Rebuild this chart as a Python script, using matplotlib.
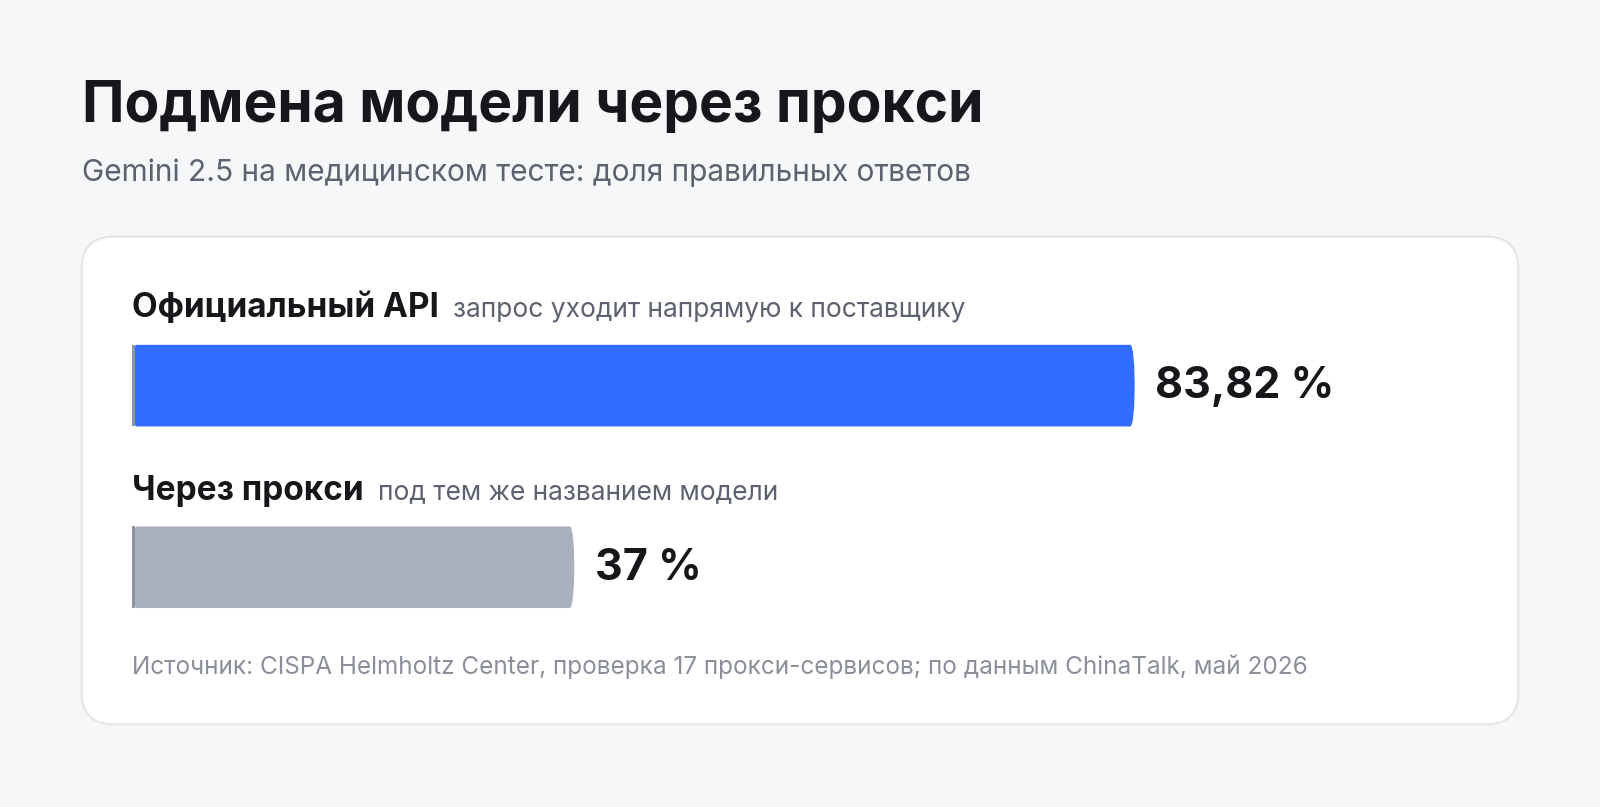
import matplotlib.pyplot as plt
from matplotlib.patches import FancyBboxPatch

labels = ["Официальный API", "Через прокси"]
notes = ["запрос уходит напрямую к поставщику", "под тем же названием модели"]
values = [83.82, 37.0]
value_text = ["83,82 %", "37 %"]
colors = ["#316bff", "#abb0bd"]

W, H = 1568, 791
plt.rcParams["font.family"] = ["Inter", "DejaVu Sans"]
fig = plt.figure(figsize=(16, 8.07), dpi=100)
fig.patch.set_facecolor("#f6f7f8")


def fx(x):
    return x / W


def fy(y):
    return 1 - y / H


fig.text(fx(80), fy(105), "Подмена модели через прокси", fontsize=41, fontweight="bold",
         color="#16171a", va="center")
fig.text(fx(80), fy(169), "Gemini 2.5 на медицинском тесте: доля правильных ответов",
         fontsize=21.5, color="#5d6270", va="center")

card = FancyBboxPatch((fx(80), fy(710)), fx(1408), 478 / H,
                      boxstyle="round,pad=0,rounding_size=0.02",
                      transform=fig.transFigure, facecolor="white",
                      edgecolor="#e3e5e9", linewidth=1.5, mutation_aspect=W / H, zorder=0)
fig.patches.append(card)

# bar axis: x from 129 to 1302 px spans 0..100 %
ax = fig.add_axes([fx(129), fy(600), fx(1173), 270 / H], zorder=2)
ax.patch.set_alpha(0)
ax.set_xlim(0, 100)
ax.set_ylim(600, 330)
ax.axis("off")

bar_top = [338, 516]
label_y = [302, 481]
for i, v in enumerate(values):
    y0 = bar_top[i]
    ax.add_patch(FancyBboxPatch((0, y0), v, 80, boxstyle="round,pad=0,rounding_size=0.4",
                                facecolor=colors[i], edgecolor="none", mutation_aspect=80 / 0.6))
    ax.add_patch(plt.Rectangle((0, y0), 0.25, 80, facecolor="#8d94a3", edgecolor="none"))
    ax.text(v + 1.7, y0 + 41, value_text[i], fontsize=31, fontweight="bold",
            color="#16171a", va="center", ha="left")
    t = fig.text(fx(129), fy(label_y[i]), labels[i], fontsize=24, fontweight="bold",
                 color="#16171a", va="center")
    fig.canvas.draw()
    bb = t.get_window_extent()
    fig.text(bb.x1 / fig.bbox.width + fx(14), fy(label_y[i] + 1), notes[i], fontsize=19,
             color="#5d6270", va="center")

fig.text(fx(129), fy(654), "Источник: CISPA Helmholtz Center, проверка 17 прокси-сервисов; "
         "по данным ChinaTalk, май 2026", fontsize=17.5, color="#8a8f9a", va="center")

fig.savefig("out.png", dpi=100, facecolor=fig.get_facecolor())
